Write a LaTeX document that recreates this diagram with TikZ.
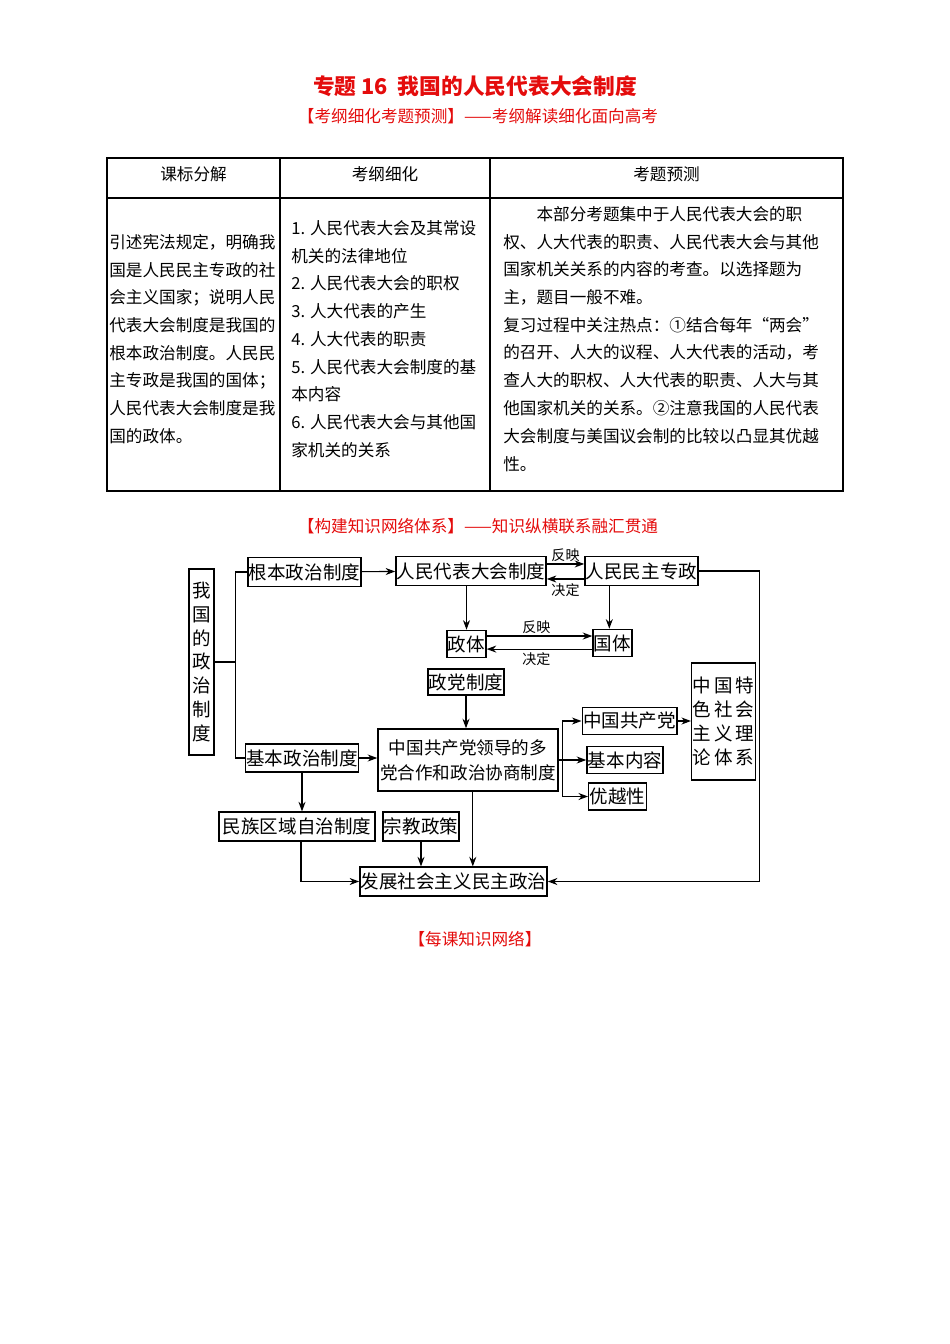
\documentclass[tikz,border=0pt]{standalone}
\usepackage{fontspec}
\setmainfont{Noto Sans CJK SC}
\usetikzlibrary{arrows.meta}
\definecolor{hdred}{RGB}{228,12,12}
\newcommand\titfont{\fontsize{13.6pt}{15pt}\selectfont}
\newcommand\tabfont{\fontsize{10.4pt}{12pt}\selectfont}
\newcommand\boxfont{\fontsize{11.6pt}{15pt}\selectfont}
\newcommand\labfont{\fontsize{8.8pt}{10pt}\selectfont}
\newcommand\lsp{\hspace{1.9pt}}

\begin{document}
\begin{tikzpicture}[x=0.626pt, y=-0.626pt,
  box/.style={draw, line width=0.9pt, inner xsep=0.6pt, inner ysep=0pt, minimum height=18pt, font=\boxfont},
  arr/.style={-{Stealth[length=6pt,width=4.4pt]}, line width=0.7pt},
  lbl/.style={font=\labfont, inner sep=1pt},
  tline/.style={anchor=west, inner sep=0pt, font=\tabfont},
  redtxt/.style={font=\tabfont, text=hdred, inner sep=0pt}]
\useasboundingbox (0,0) rectangle (950,1344);

% headings
\node[font=\titfont\bfseries, text=hdred, inner sep=0pt] (title) at (475,86) {专题 16\ \ 我国的人民代表大会制度};
\node[redtxt] (sub1) at (478,116) {【考纲细化考题预测】——考纲解读细化面向高考};

% table
\draw[line width=1pt] (107,158) rectangle (843,491);
\draw[line width=1pt] (107,198) -- (843,198) (280,158) -- (280,491) (490,158) -- (490,491);
\node[font=\tabfont, inner sep=0pt] (h1) at (193.5,174) {课标分解};
\node[font=\tabfont, inner sep=0pt] (h2) at (385,174) {考纲细化};
\node[font=\tabfont, inner sep=0pt] (h3) at (666.5,174) {考题预测};
\foreach \t [count=\i from 0] in {引述宪法规定，明确我, 国是人民民主专政的社, 会主义国家；说明人民,
    代表大会制度是我国的, 根本政治制度。人民民, 主专政是我国的国体；, 人民代表大会制度是我, 国的政体。}
  \node[tline] (ka\i) at (109,{242+27.75*\i}) {\t};
\foreach \t [count=\i from 0] in {1. 人民代表大会及其常设, 机关的法律地位, 2. 人民代表大会的职权,
    3. 人大代表的产生, 4. 人大代表的职责, 5. 人民代表大会制度的基, 本内容,
    6. 人民代表大会与其他国, 家机关的关系}
  \node[tline] (kb\i) at (291,{228+27.75*\i}) {\t};
\foreach \t [count=\i from 0] in {\quad\quad 本部分考题集中于人民代表大会的职,
    权、人大代表的职责、人民代表大会与其他, 国家机关关系的内容的考查。以选择题为,
    主，题目一般不难。, 复习过程中关注热点：①结合每年“两会”,
    的召开、人大的议程、人大代表的活动，考, 查人大的职权、人大代表的职责、人大与其,
    他国家机关的关系。②注意我国的人民代表, 大会制度与美国议会制的比较以凸显其优越, 性。}
  \node[tline] (kc\i) at (503,{214+27.75*\i}) {\t};

% knowledge network
\node[redtxt] (sub2) at (478,526) {【构建知识网络体系】——知识纵横联系融汇贯通};

\node[box, align=center, minimum width=15.7pt, minimum height=116.4pt] (wg) at (201.5,662)
  {我\\国\\的\\政\\治\\制\\度};
\node[box] (gb) at (304.5,572) {根本政治制度};
\node[box] (rd) at (471,571) {人民代表大会制度};
\node[box] (zz) at (641.5,571) {人民民主专政};
\node[box, minimum height=17pt] (zt) at (466.5,644) {政体};
\node[box, minimum height=17pt] (gt) at (612.5,643) {国体};
\node[box, minimum height=16.5pt] (zd) at (466,682) {政党制度};
\node[box, align=center, font=\fontsize{11pt}{15.6pt}\selectfont, minimum width=112.7pt, minimum height=38.8pt] (dh) at (468,760)
  {中国共产党领导的多\\党合作和政治协商制度};
\node[box, minimum height=17.5pt] (jb) at (302,758) {基本政治制度};
\node[box, minimum height=17pt] (gcd) at (629.5,721) {中国共产党};
\node[box, minimum height=17pt] (nr) at (625,760) {基本内容};
\node[box, minimum height=17pt] (yy) at (617.5,796.5) {优越性};
\node[box, align=center, minimum width=39.4pt, minimum height=73.2pt] (ts) at (723.5,721.5)
  {中\lsp 国\lsp 特\\色\lsp 社\lsp 会\\主\lsp 义\lsp 理\\论\lsp 体\lsp 系};
\node[box, minimum width=97.7pt] (mz) at (297,826.5) {民族区域自治制度};
\node[box] (zj) at (421,826.5) {宗教政策};
\node[box] (fz) at (453.5,881.5) {发展社会主义民主政治};

% connectors
\draw[line width=0.7pt] (wg.east) -- ++(21,0) coordinate (br);
\draw[line width=0.7pt] (gb.west) -| (br) |- (jb.west);
\draw[arr] (gb) -- (rd);
\draw[arr] ([yshift=4.4pt]rd.east) -- node[lbl, above] (fy1) {反映} ([yshift=4.4pt]zz.west);
\draw[arr] ([yshift=-5pt]zz.west) -- node[lbl, below, yshift=-1.5pt] (jd1) {决定} ([yshift=-5pt]rd.east);
\draw[arr] (rd.south -| zt.north) -- (zt.north);
\draw[arr] ([xshift=-2pt]zz.south -| gt.north) -- ([xshift=-2pt]gt.north);
\draw[arr] ([yshift=5pt]zt.east) -- node[lbl, above, xshift=-2pt] (fy2) {反映} ([yshift=5pt]zt.east -| gt.west);
\draw[arr] ([yshift=-3.8pt]gt.west) -- node[lbl, below, yshift=-1pt, xshift=-2pt] (jd2) {决定} ([yshift=-3.8pt]gt.west -| zt.east);
\draw[arr] (zd.south) -- (zd.south |- dh.north);
\draw[arr] (jb.east) -- (jb.east -| dh.west);
\draw[line width=0.7pt] (dh.east) -- ++(4,0) coordinate (bk);
\draw[arr] (bk) |- (gcd.west);
\draw[arr] (bk) -- (nr.west);
\draw[arr] (bk) |- (yy.west);
\draw[arr] (gcd.east) -- (gcd.east -| ts.west);
\draw[arr] (zz.east) -- ++(61,0) |- (fz.east);
\draw[arr] (jb.south) -- (jb.south |- mz.north);
\draw[arr] ([xshift=2.5pt]mz.south) |- (fz.west);
\draw[arr] (zj.south) -- (zj.south |- fz.north);
\draw[arr] ([xshift=3pt]dh.south) -- ([xshift=3pt]dh.south |- fz.north);

\node[redtxt] (foot) at (475,939) {【每课知识网络】};
\end{tikzpicture}
\end{document}
